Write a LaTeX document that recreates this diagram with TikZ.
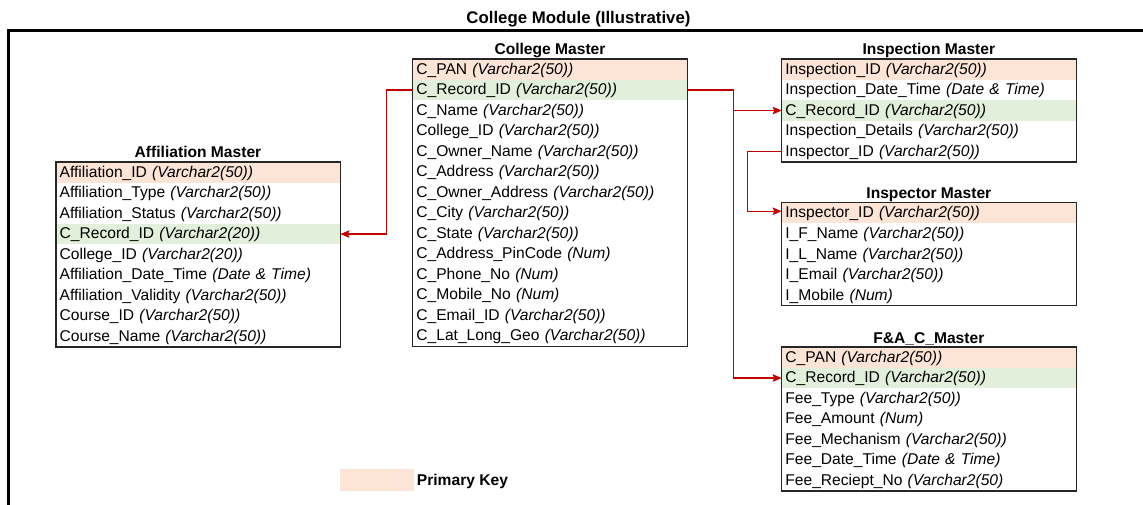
\documentclass[tikz,border=0pt]{standalone}
\usepackage{fontspec}
\setmainfont{Liberation Sans}
\usetikzlibrary{arrows.meta}

\definecolor{pk}{HTML}{FCE4D6}
\definecolor{fk}{HTML}{E2EFDA}
\definecolor{linkred}{HTML}{C00000}
\definecolor{framegray}{HTML}{262626}

\newcommand\fieldfont{\fontsize{15.6}{18}\selectfont}
\newcommand\fld[2]{#1 \textit{(#2)}}

% #1 name, #2 left x, #3 top y, #4 width, #5 title, #6 number of rows, #7 rows (kind/text)
\newcommand\erdtable[7]{%
  \pgfmathsetmacro\erdtw{#4-7}%
  \node[tabletitle] (#1-title) at ({#2+#4/2}, {#3-4.3}) {#5};
  \foreach \kind/\txt [count=\i] in {#7}{%
    \node[rowbox, text width=\erdtw pt, fill=\kind] (#1-\i) at (#2, {#3+(\i-0.5)*20.5}) {\txt};
  }
  \draw[tableframe] (#1-1.north west) rectangle (#1-#6.south east);
}

\tikzset{
  rowbox/.style={rectangle, anchor=west, inner xsep=3.5pt, inner ysep=0pt,
    align=left, minimum height=20.5pt, text height=13pt, text depth=3.5pt,
    font=\fieldfont},
  tabletitle/.style={anchor=base, inner sep=0pt, font=\fieldfont\bfseries},
  tableframe/.style={draw=framegray, line width=1.3pt},
  relation/.style={draw=linkred, line width=1.2pt,
    -{Stealth[length=9pt, width=7.5pt, inset=1.5pt]}},
}

\begin{document}
\begin{tikzpicture}[x=1pt, y=-1pt]
\useasboundingbox (0,0) rectangle (1143,505);
\clip (0,0) rectangle (1143,505);

% page heading and outer frame
\node[anchor=base, inner sep=0pt, font=\fontsize{16.8}{20}\selectfont\bfseries]
  (heading) at (578.5,24) {College Module (Illustrative)};
\draw[line width=3pt] (1143,30.8) -- (8,30.8) -- (8,505);

\erdtable{aff}{56}{162.3}{284}{Affiliation Master}{9}{%
  pk/\fld{Affiliation\_ID}{Varchar2(50)},
  white/\fld{Affiliation\_Type}{Varchar2(50)},
  white/\fld{Affiliation\_Status}{Varchar2(50)},
  fk/\fld{C\_Record\_ID}{Varchar2(20)},
  white/\fld{College\_ID}{Varchar2(20)},
  white/\fld{Affiliation\_Date\_Time}{Date \& Time},
  white/\fld{Affiliation\_Validity}{Varchar2(50)},
  white/\fld{Course\_ID}{Varchar2(50)},
  white/\fld{Course\_Name}{Varchar2(50)}}

\erdtable{col}{412.7}{59.3}{274.6}{College Master}{14}{%
  pk/\fld{C\_PAN}{Varchar2(50)},
  fk/\fld{C\_Record\_ID}{Varchar2(50)},
  white/\fld{C\_Name}{Varchar2(50)},
  white/\fld{College\_ID}{Varchar2(50)},
  white/\fld{C\_Owner\_Name}{Varchar2(50)},
  white/\fld{C\_Address}{Varchar2(50)},
  white/\fld{C\_Owner\_Address}{Varchar2(50)},
  white/\fld{C\_City}{Varchar2(50)},
  white/\fld{C\_State}{Varchar2(50)},
  white/\fld{C\_Address\_PinCode}{Num},
  white/\fld{C\_Phone\_No}{Num},
  white/\fld{C\_Mobile\_No}{Num},
  white/\fld{C\_Email\_ID}{Varchar2(50)},
  white/\fld{C\_Lat\_Long\_Geo}{Varchar2(50)}}

\erdtable{insp}{781.7}{59.3}{294.3}{Inspection Master}{5}{%
  pk/\fld{Inspection\_ID}{Varchar2(50)},
  white/\fld{Inspection\_Date\_Time}{Date \& Time},
  fk/\fld{C\_Record\_ID}{Varchar2(50)},
  white/\fld{Inspection\_Details}{Varchar2(50)},
  white/\fld{Inspector\_ID}{Varchar2(50)}}

\erdtable{ior}{781.7}{203}{294.3}{Inspector Master}{5}{%
  pk/\fld{Inspector\_ID}{Varchar2(50)},
  white/\fld{I\_F\_Name}{Varchar2(50)},
  white/\fld{I\_L\_Name}{Varchar2(50)},
  white/\fld{I\_Email}{Varchar2(50)},
  white/\fld{I\_Mobile}{Num}}

\erdtable{fa}{781.7}{347.3}{294.3}{F\&A\_C\_Master}{7}{%
  pk/\fld{C\_PAN}{Varchar2(50)},
  fk/\fld{C\_Record\_ID}{Varchar2(50)},
  white/\fld{Fee\_Type}{Varchar2(50)},
  white/\fld{Fee\_Amount}{Num},
  white/\fld{Fee\_Mechanism}{Varchar2(50)},
  white/\fld{Fee\_Date\_Time}{Date \& Time},
  white/\fld{Fee\_Reciept\_No}{Varchar2(50}}

% relations on C_Record_ID and Inspector_ID
\coordinate (split) at ([xshift=46pt]col-2.east);
\draw[relation] (col-2.west) -- ++(-26,0) |- (aff-4.east);
\draw[relation] (col-2.east) -- (split) |- (insp-3.west);
\draw[relation] (split) |- (fa-2.west);
\draw[relation] (insp-5.west) -- ++(-34.4,0) |- ([yshift=2pt]ior-1.west);

% legend
\node[anchor=north west, minimum width=74pt, minimum height=22.4pt, inner sep=0pt,
  fill=pk] (pkswatch) at (339.3,468.3) {};
\node[anchor=base west, inner sep=0pt, font=\fieldfont\bfseries]
  (pklabel) at (416.7,485) {Primary Key};
\end{tikzpicture}
\end{document}
